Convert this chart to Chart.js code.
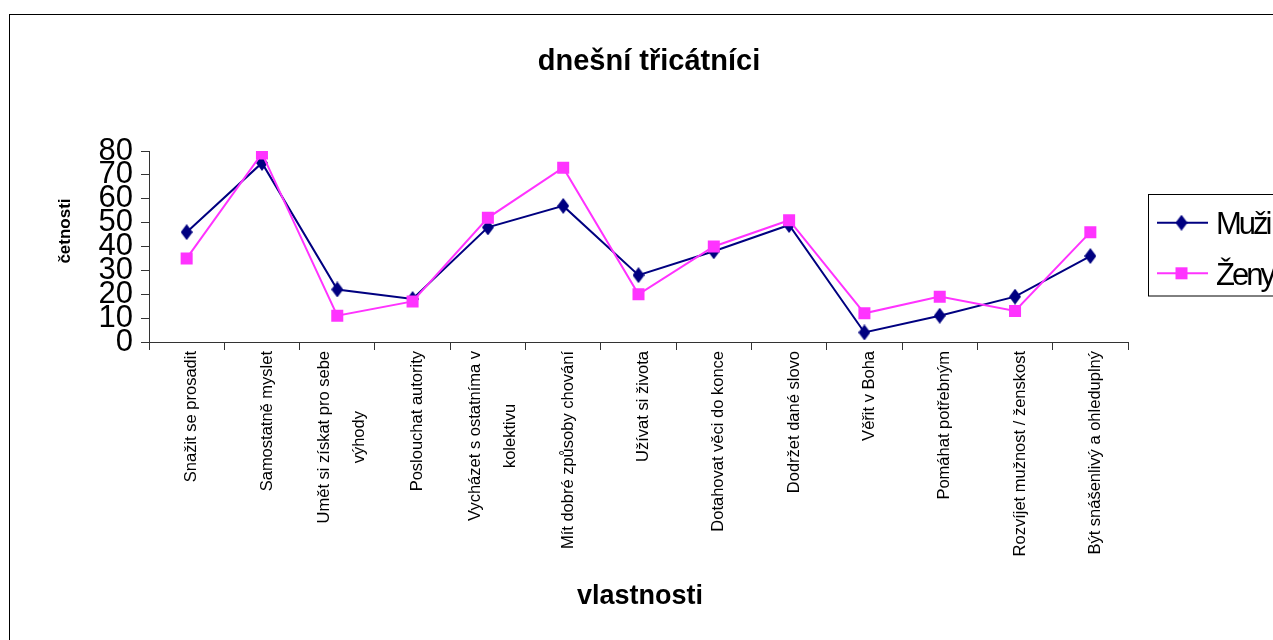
<!DOCTYPE html>
<html lang="cs">
<head>
<meta charset="UTF-8">
<title>dnešní třicátníci</title>
<script src="https://cdn.jsdelivr.net/npm/chart.js@4.4.1/dist/chart.umd.min.js"></script>
<style>
  html, body { margin: 0; padding: 0; background: #fff; }
  #wrap { width: 1273px; height: 640px; }
</style>
</head>
<body>
<div id="wrap"><canvas id="vlastnostiChart" width="1273" height="640"></canvas></div>
<script>
// Data
const vlastnosti = [
    'Snažit se prosadit',
    'Samostatně myslet',
    ['Umět si získat pro sebe', 'výhody'],
    'Poslouchat autority',
    ['Vycházet s ostatníma v', 'kolektivu'],
    'Mít dobré způsoby chování',
    'Užívat si života',
    'Dotahovat věci do konce',
    'Dodržet dané slovo',
    'Věřit v Boha',
    'Pomáhat potřebným',
    'Rozvíjet mužnost / ženskost',
    'Být snášenlivý a ohleduplný'
];
const muzi = [46, 75, 22, 18, 48, 57, 28, 38, 49, 4, 11, 19, 36];
const zeny = [35, 79, 11, 17, 52, 73, 20, 40, 51, 12, 19, 13, 46];
const osaY = [0, 10, 20, 30, 40, 50, 60, 70, 80];

const pismo = "'Liberation Sans', Arial, sans-serif";
const modra = '#000080';
const ruzova = '#FF33FF';

// Kosočtverec jako značka pro Muže
const kosoctverec = document.createElement('canvas');
kosoctverec.width = 12;
kosoctverec.height = 16;
const k = kosoctverec.getContext('2d');
k.fillStyle = modra;
k.beginPath();
k.moveTo(6, 0);
k.lineTo(12, 8);
k.lineTo(6, 16);
k.lineTo(0, 8);
k.closePath();
k.fill();

// Popisky osy X - řádky vycentrované jako v Excelu
const popiskyX = {
    id: 'popiskyX',
    afterDraw(chart) {
        const c = chart.ctx;
        const osa = chart.scales.x;
        c.save();
        c.fillStyle = '#000';
        c.font = '16.5px ' + pismo;
        c.textAlign = 'center';
        c.textBaseline = 'middle';
        vlastnosti.forEach((popis, i) => {
            const radky = Array.isArray(popis) ? popis : [popis];
            const sirka = Math.max(...radky.map(r => c.measureText(r).width));
            const stred = osa.getPixelForValue(i) + 5;
            radky.forEach((r, j) => {
                c.save();
                c.translate(stred + (j - (radky.length - 1) / 2) * 35, osa.top + 9 + sirka / 2);
                c.rotate(-Math.PI / 2);
                c.fillText(r, 0, 0);
                c.restore();
            });
        });
        c.restore();
    }
};

// Rámeček, nadpisy a legenda
const ramecek = {
    id: 'ramecek',
    beforeDraw(chart) {
        const c = chart.ctx;
        c.save();
        c.fillStyle = '#fff';
        c.fillRect(0, 0, chart.width, chart.height);
        c.restore();
    },
    afterDraw(chart) {
        const c = chart.ctx;
        c.save();
        c.strokeStyle = '#000';
        c.lineWidth = 1;
        c.strokeRect(9.5, 14.5, 1400, 800);

        c.fillStyle = '#000';
        c.textAlign = 'center';
        c.textBaseline = 'alphabetic';
        c.font = 'bold 29px ' + pismo;
        c.fillText('dnešní třicátníci', 649, 69.5);
        c.font = 'bold 27px ' + pismo;
        c.fillText('vlastnosti', 640, 603.5);

        c.save();
        c.translate(65, 231);
        c.rotate(-Math.PI / 2);
        c.font = 'bold 17px ' + pismo;
        c.textBaseline = 'middle';
        c.fillText('četnosti', 0, 0);
        c.restore();

        // legenda
        c.strokeStyle = '#000';
        c.strokeRect(1148.5, 194.5, 300, 101.5);
        const radky = [
            { text: 'Muži', barva: modra, y: 222.7 },
            { text: 'Ženy', barva: ruzova, y: 273.3 }
        ];
        radky.forEach((r, i) => {
            c.strokeStyle = r.barva;
            c.lineWidth = 2;
            c.beginPath();
            c.moveTo(1157, r.y);
            c.lineTo(1208, r.y);
            c.stroke();
            if (i === 0) {
                c.drawImage(kosoctverec, 1181.5 - 6, r.y - 8);
            } else {
                c.fillStyle = ruzova;
                c.fillRect(1181.5 - 6, r.y - 6, 12, 12);
            }
            c.fillStyle = '#000';
            c.textAlign = 'left';
            c.textBaseline = 'alphabetic';
            c.font = '31px ' + pismo;
            c.letterSpacing = '-3px';
            c.fillText(r.text, 1216, r.y + 11.5);
            c.letterSpacing = '0px';
        });
        c.restore();
    }
};

const ctx = document.getElementById('vlastnostiChart').getContext('2d');

const graf = new Chart(ctx, {
    type: 'line',
    data: {
        labels: vlastnosti,
        datasets: [{
            label: 'Muži',
            data: muzi,
            borderColor: modra,
            backgroundColor: modra,
            borderWidth: 2,
            pointStyle: kosoctverec,
            pointRadius: 7,
            order: 1
        }, {
            label: 'Ženy',
            data: zeny,
            borderColor: ruzova,
            backgroundColor: ruzova,
            borderWidth: 2,
            pointStyle: 'rect',
            pointRadius: 8.5,
            pointBorderWidth: 0,
            order: 0
        }]
    },
    options: {
        responsive: false,
        animation: false,
        devicePixelRatio: 1,
        layout: {
            padding: { top: 151, right: 145, bottom: 0, left: 0 }
        },
        plugins: {
            legend: { display: false },
            title: { display: false },
            tooltip: { enabled: false }
        },
        scales: {
            x: {
                offset: true,
                grid: { offset: true, drawOnChartArea: false, tickLength: 8, color: '#333' },
                border: { color: '#333', width: 1 },
                ticks: { display: false, autoSkip: false },
                afterFit: s => { s.height = 640 - 342; }
            },
            y: {
                min: 0,
                max: 80,
                afterBuildTicks: s => { s.ticks = osaY.map(v => ({ value: v })); },
                grid: { drawOnChartArea: false, tickLength: 8, color: '#333' },
                border: { color: '#333', width: 1 },
                ticks: {
                    autoSkip: false,
                    padding: 8,
                    color: '#000',
                    font: { family: pismo, size: 31, lineHeight: 1 }
                },
                afterFit: s => { s.width = 149; }
            }
        }
    },
    plugins: [popiskyX, ramecek]
});
</script>
</body>
</html>
